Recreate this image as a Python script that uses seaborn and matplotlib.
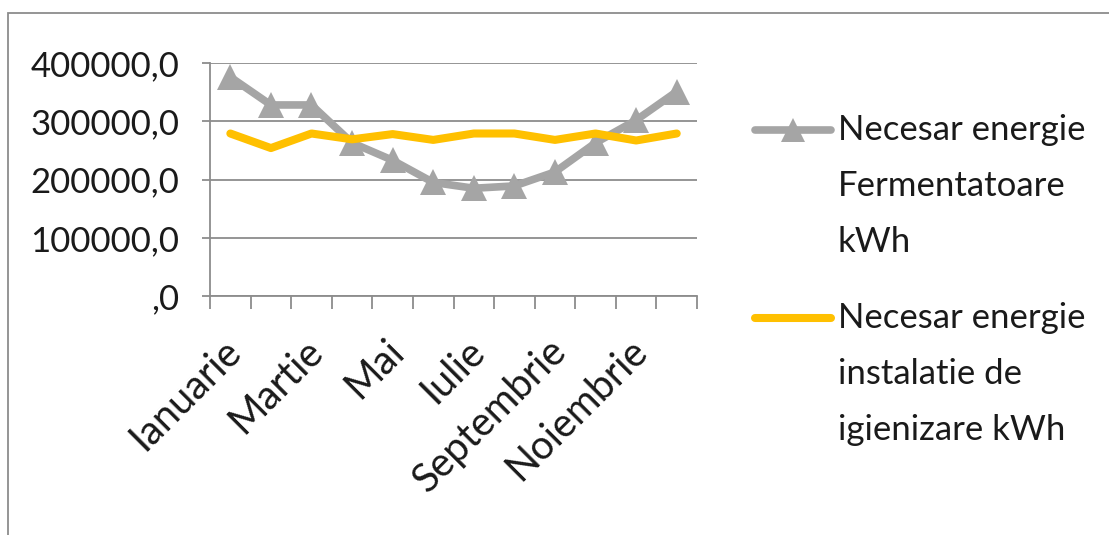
import matplotlib
matplotlib.use("Agg")
import matplotlib.pyplot as plt
import matplotlib.transforms as mtransforms
from matplotlib.lines import Line2D
from matplotlib.patches import Rectangle
from matplotlib.ticker import FixedLocator, FuncFormatter
import seaborn as sns
import pandas as pd
import numpy as np

months = ["Ianuarie", "Februarie", "Martie", "Aprilie", "Mai", "Iunie",
          "Iulie", "August", "Septembrie", "Octombrie", "Noiembrie", "Decembrie"]
fermentatoare = [376000, 328000, 328000, 263000, 233000, 195000,
                 185000, 189000, 213000, 263000, 302000, 351000]
igienizare = [279000, 254000, 279000, 269000, 278000, 268000,
              279000, 279000, 268000, 279000, 267000, 279000]
series_names = ["Necesar energie\nFermentatoare\nkWh",
                "Necesar energie\ninstalatie de\nigienizare kWh"]
y_ticks = [0, 100000, 200000, 300000, 400000]

sns.set_theme(style="white")
plt.rcParams["font.family"] = ["Lato", "DejaVu Sans"]

gray = "#A5A5A5"
yellow = "#FFC000"
grid_c = "#8C8C8C"

df = pd.DataFrame({"x": np.arange(len(months)),
                   "ferm": fermentatoare, "igien": igienizare})

fig = plt.figure(figsize=(11.09, 5.35), dpi=100)
ax = fig.add_axes([0.1894, 0.4467, 0.4391, 0.4355])

for yv in y_ticks:
    ax.axhline(yv, color=grid_c, lw=1.3, zorder=0)

sns.lineplot(data=df, x="x", y="ferm", ax=ax, color=gray, lw=5.5,
             marker="^", markersize=19, markeredgewidth=0, sort=False, zorder=3)
sns.lineplot(data=df, x="x", y="igien", ax=ax, color=yellow, lw=5.8,
             sort=False, zorder=4, solid_capstyle="round",
             solid_joinstyle="round")

ax.set_xlim(-0.5, len(months) - 0.5)
ax.set_ylim(0, 400000)
ax.set_xlabel("")
ax.set_ylabel("")

ax.yaxis.set_major_locator(FixedLocator(y_ticks))
def yfmt(v, pos):
    s = f"{v:.1f}".replace(".", ",")
    if s.startswith("0,"):
        s = s[1:]
    return s
ax.yaxis.set_major_formatter(FuncFormatter(yfmt))
ax.tick_params(axis="y", which="major", length=6, width=1.3, color=grid_c,
               pad=16, labelsize=25, labelcolor="#1a1a1a", left=True)

ax.set_xticks(np.arange(0, len(months), 2))
ax.set_xticklabels(months[::2], rotation=45, ha="right", va="top",
                   rotation_mode="anchor")
ax.set_xticks(np.arange(-0.5, len(months)), minor=True)
ax.tick_params(axis="x", which="major", length=0, pad=26, labelsize=28.5,
               labelcolor="#1a1a1a")
ax.tick_params(axis="x", which="minor", length=9, width=1.3, color=grid_c,
               bottom=True)
offset = mtransforms.ScaledTranslation(-8 / 100, 0, fig.dpi_scale_trans)
for lbl in ax.get_xticklabels():
    lbl.set_transform(lbl.get_transform() + offset)

for s in ["top", "right"]:
    ax.spines[s].set_visible(False)
for s in ["left", "bottom"]:
    ax.spines[s].set_color(grid_c)
    ax.spines[s].set_linewidth(1.3)

# legend (manual, to align handle with first text line)
W, H = 1109, 535
def fx(px): return px / W
def fy(py): return 1 - py / H
leg = [(130, Line2D([fx(755), fx(831)], [fy(130), fy(130)], color=gray, lw=5.5,
                    solid_capstyle="round", transform=fig.transFigure)),
       (318, Line2D([fx(755), fx(831)], [fy(318), fy(318)], color=yellow, lw=5.8,
                    solid_capstyle="round", transform=fig.transFigure))]
for (py, ln), name in zip(leg, series_names):
    fig.add_artist(ln)
    if ln.get_color() == gray:
        fig.add_artist(Line2D([fx(793)], [fy(130)], marker="^", markersize=17,
                              color=gray, markeredgewidth=0,
                              transform=fig.transFigure))
    for i, line in enumerate(name.split("\n")):
        fig.text(fx(838), fy(py + i * 56), line, fontsize=25, color="#1a1a1a",
                 va="center", ha="left")

# chart frame (top and left edges visible)
fig.add_artist(Rectangle((fx(8), -0.1), 1.2, fy(13) + 0.1, fill=False,
                         edgecolor="#8C8C8C", lw=1.3, transform=fig.transFigure))

fig.savefig("out.png", dpi=100)
